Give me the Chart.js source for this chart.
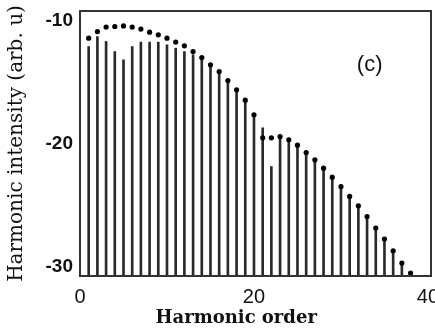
<!DOCTYPE html>
<html>
<head>
<meta charset="utf-8">
<script src="https://cdn.jsdelivr.net/npm/chart.js@4.4.1/dist/chart.umd.min.js"></script>
<style>
html, body { margin: 0; padding: 0; background: #fff; }
</style>
</head>
<body>
<canvas id="chart" width="435" height="329"></canvas>
<script>
// harmonic orders shown in the plot
var harmonicOrder = [1, 2, 3, 4, 5, 6, 7, 8, 9, 10, 11, 12, 13, 14, 15, 16, 17, 18, 19, 20,
    21, 22, 23, 24, 25, 26, 27, 28, 29, 30, 31, 32, 33, 34, 35, 36, 37, 38];

// envelope (dots)
var envelopeDots = [-11.41, -10.87, -10.51, -10.46, -10.41, -10.51, -10.67, -10.92, -11.14, -11.41,
    -11.73, -12.03, -12.50, -12.98, -13.58, -14.12, -14.85, -15.61, -16.45, -17.64,
    -19.51, -19.51, -19.41, -19.67, -20.11, -20.71, -21.30, -21.98, -22.71, -23.47,
    -24.28, -25.04, -25.91, -26.85, -27.75, -28.70, -29.70, -30.51];

// vertical lines (top of each harmonic line)
var harmonicLines = [-12.09, -11.28, -11.68, -12.50, -13.17, -12.09, -11.73, -11.73, -11.73, -11.95,
    -12.22, -12.50, -12.76, -12.98, -13.58, -14.12, -14.85, -15.61, -16.45, -17.64,
    -18.70, -21.85, -19.41, -19.67, -20.11, -20.71, -21.30, -21.98, -22.71, -23.47,
    -24.28, -25.04, -25.91, -26.85, -27.75, -28.70, -29.70, -30.51];

var xTickValues = [0, 20, 40];
var yTickValues = [-10, -20, -30];

var X_MIN = 0, X_MAX = 40.35;
var Y_MIN = -30.75, Y_MAX = -9.2;

var panelLabel = '(c)';
var panelLabelX = 33.3, panelLabelY = -13.6;
var xTitle = 'Harmonic order';

var framePlugin = {
    id: 'frame',
    afterDatasetsDraw: function(chart) {
        var a = chart.chartArea;
        var ctx = chart.ctx;
        ctx.save();
        ctx.strokeStyle = '#333';
        ctx.lineWidth = 2;
        ctx.strokeRect(a.left, a.top, a.right - a.left, a.bottom - a.top);
        ctx.fillStyle = '#111';
        ctx.font = '22px "Liberation Sans"';
        ctx.textAlign = 'center';
        ctx.textBaseline = 'middle';
        ctx.fillText(panelLabel, chart.scales.x.getPixelForValue(panelLabelX), chart.scales.y.getPixelForValue(panelLabelY));
        // x title sits a bit left of centre in the original
        ctx.font = 'bold 18px "DejaVu Serif"';
        ctx.fillText(xTitle, a.left + (a.right - a.left) * 0.445, chart.height - 11);
        ctx.restore();
    }
};

var ctx = document.getElementById('chart').getContext('2d');
var chart = new Chart(ctx, {
    type: 'bar',
    data: {
        datasets: [{
            type: 'line',
            label: 'envelope',
            data: harmonicOrder.map(function(h, i) { return {x: h, y: envelopeDots[i]}; }),
            showLine: false,
            pointRadius: 2.6,
            pointBackgroundColor: '#000',
            pointBorderWidth: 0,
            order: 0
        }, {
            type: 'bar',
            label: 'harmonics',
            data: harmonicOrder.map(function(h, i) { return {x: h, y: harmonicLines[i]}; }),
            base: Y_MIN,
            barThickness: 2,
            backgroundColor: '#2a2a2a',
            borderWidth: 0,
            order: 1
        }]
    },
    options: {
        responsive: false,
        devicePixelRatio: 1,
        animation: false,
        layout: { padding: { top: 11, right: 4, left: 0, bottom: 0 } },
        plugins: {
            legend: { display: false },
            tooltip: { enabled: false }
        },
        scales: {
            x: {
                type: 'linear',
                offset: false,
                min: X_MIN,
                max: X_MAX,
                grid: { display: false, drawTicks: false },
                border: { display: false },
                afterBuildTicks: function(scale) {
                    scale.ticks = xTickValues.map(function(v) { return {value: v}; });
                },
                afterFit: function(scale) {
                    scale.height = 53;
                    scale.paddingLeft = 0;
                    scale.paddingRight = 0;
                },
                ticks: {
                    padding: 9,
                    color: '#111',
                    maxRotation: 0,
                    font: { family: 'Liberation Sans', size: 20 },
                    callback: function(v) { return String(v); }
                },
                title: { display: false }
            },
            y: {
                min: Y_MIN,
                max: Y_MAX,
                grid: { display: false, drawTicks: false },
                border: { display: false },
                afterBuildTicks: function(scale) {
                    scale.ticks = yTickValues.map(function(v) { return {value: v}; });
                },
                afterFit: function(scale) {
                    scale.width = 80;
                    scale.paddingTop = 0;
                    scale.paddingBottom = 0;
                },
                ticks: {
                    padding: 7,
                    color: '#111',
                    font: { family: 'Liberation Sans', size: 19, weight: 'bold' },
                    callback: function(v) { return String(v); }
                },
                title: {
                    display: true,
                    text: 'Harmonic intensity (arb. u)',
                    color: '#111',
                    padding: { top: 7, bottom: 0 },
                    font: { family: 'DejaVu Serif', size: 20, lineHeight: 1 }
                }
            }
        }
    },
    plugins: [framePlugin]
});
</script>
</body>
</html>
